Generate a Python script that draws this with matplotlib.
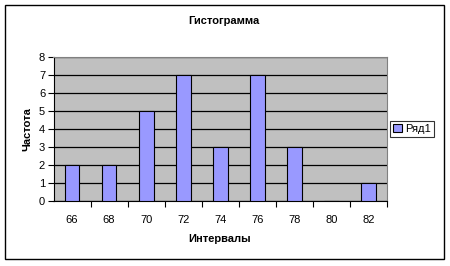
import numpy as np
import matplotlib.pyplot as plt
from matplotlib.patches import Rectangle

plt.rcParams['font.family'] = ['Liberation Sans', 'DejaVu Sans']

intervals = ['66', '68', '70', '72', '74', '76', '78', '80', '82']
freq = [2, 2, 5, 7, 3, 7, 3, 0, 1]
series_name = 'Ряд1'

W, H = 450, 266
fig = plt.figure(figsize=(W / 100, H / 100), dpi=100)
fig.patch.set_facecolor('white')
fig.patches.append(Rectangle((5 / W, 1 - 259 / H), 439 / W, 254 / H, transform=fig.transFigure,
                             fill=False, edgecolor='black', linewidth=1))

ax = fig.add_axes([53.5 / W, 1 - 201.3 / H, 333.5 / W, 144.6 / H])
ax.set_facecolor('#c0c0c0')

x = np.arange(len(intervals))
ax.set_axisbelow(True)
ax.yaxis.grid(True, color='black', linewidth=0.9)
ax.bar(x, freq, width=0.4, color='#9999ff', edgecolor='black', linewidth=0.8, label=series_name, zorder=3)

ax.set_xlim(-0.5, len(intervals) - 0.5)
ax.set_ylim(0, 8)
ax.set_yticks(range(0, 9))
ax.set_xticks(x + 0.5, minor=False)
ax.set_xticklabels([])
ax.set_xticks(x, minor=True)
ax.set_xticklabels(intervals, minor=True)
ax.tick_params(axis='x', which='major', length=4, direction='out', width=0.8)
ax.tick_params(axis='x', which='minor', length=0, pad=10, labelsize=8)
ax.tick_params(axis='y', length=4, direction='out', width=0.8, labelsize=8, pad=2)

for s in ['top', 'right']:
    ax.spines[s].set_color('#808080')
for s in ['left', 'bottom']:
    ax.spines[s].set_color('black')

fig.text(224 / W, 1 - 21 / H, 'Гистограмма', ha='center', va='center', fontsize=8, fontweight='bold')
fig.text(220 / W, 1 - 239 / H, 'Интервалы', ha='center', va='center', fontsize=8, fontweight='bold')
fig.text(27 / W, 1 - 129 / H, 'Частота', ha='center', va='center', rotation=90, fontsize=8, fontweight='bold')

leg = fig.legend(loc='center', bbox_to_anchor=(412 / W, 1 - 129 / H), fontsize=8, frameon=True,
                 fancybox=False, edgecolor='black', handlelength=0.8, handleheight=0.8,
                 handletextpad=0.3, borderpad=0.3, borderaxespad=0)
leg.get_frame().set_linewidth(0.8)

fig.savefig('out.png', dpi=100)
